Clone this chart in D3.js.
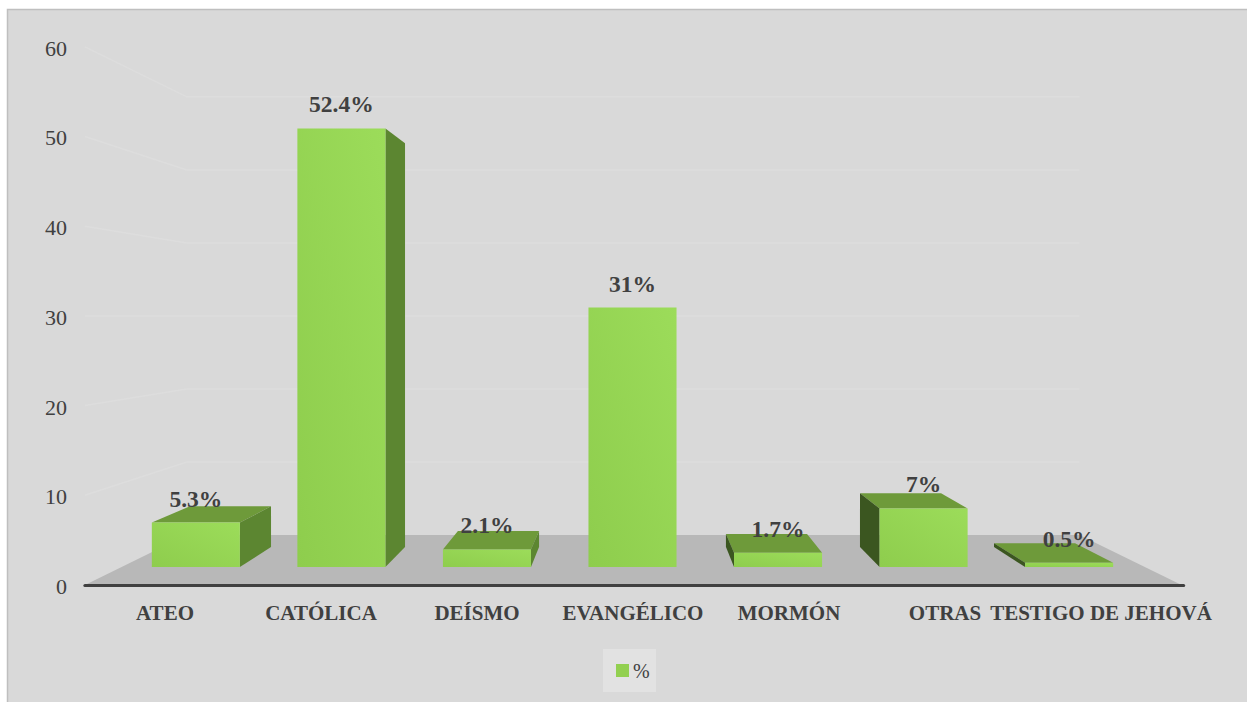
<!DOCTYPE html>
<html>
<head>
<meta charset="utf-8">
<script src="https://cdn.jsdelivr.net/npm/d3@7/dist/d3.min.js"></script>
<style>
  html, body { margin: 0; padding: 0; background: #ffffff; }
  svg { display: block; }
</style>
</head>
<body>
<svg id="chart" width="1247" height="702"></svg>
<script>
// ---- data ----
const categories = ["ATEO", "CATÓLICA", "DEÍSMO", "EVANGÉLICO", "MORMÓN", "OTRAS", "TESTIGO DE JEHOVÁ"];
const values = [5.3, 52.4, 2.1, 31, 1.7, 7, 0.5];
const valueLabels = ["5.3%", "52.4%", "2.1%", "31%", "1.7%", "7%", "0.5%"];
const yTicks = [0, 10, 20, 30, 40, 50, 60];
const seriesName = "%";

// ---- perspective setup ----
const svg = d3.select("#chart");
const W = 1247, H = 702;
const FONT = "'Liberation Serif', 'Times New Roman', Times, serif";
const VP = { x: 632.5, y: 316 };           // vanishing point / eye level
const S = { front: 1, barFront: 0.933, barBack: 0.859, back: 0.814 };

// world scales (at depth scale s = 1)
const yWorld = d3.scaleLinear().domain([0, 60]).range([269, -269.2]);
const xWorld = d3.scaleLinear().domain([0, categories.length - 1]).range([-468, 468]);

const proj = (X, Y, s) => [VP.x + X * s, VP.y + Y * s];
const poly = pts => "M" + pts.map(p => p.join(",")).join("L") + "Z";

// background + frame
svg.append("rect").attr("x", 7.5).attr("y", 9.5).attr("width", W + 20).attr("height", H + 20)
  .attr("fill", "#d9d9d9").attr("stroke", "#bfbfbf").attr("stroke-width", 1.5);

const defs = svg.append("defs");
const grad = defs.append("linearGradient").attr("id", "frontGrad")
  .attr("x1", "0%").attr("y1", "100%").attr("x2", "100%").attr("y2", "0%");
grad.append("stop").attr("offset", "0%").attr("stop-color", "#8ecd4d");
grad.append("stop").attr("offset", "100%").attr("stop-color", "#9cdc5a");

// floor extents
const xLeft = xWorld(-0.51), xRight = xWorld(6.52);

// gridlines: back wall + left side wall
const gridG = svg.append("g");
yTicks.filter(v => v > 0).forEach(v => {
  const yw = yWorld(v);
  const a = proj(xLeft, yw, S.front), b = proj(xLeft, yw, S.back), c = proj(xRight, yw, S.back);
  gridG.append("path").attr("d", `M${a}L${b}L${c}`)
    .attr("fill", "none").attr("stroke", "#dddddd").attr("stroke-width", 1.5);
});

// floor
svg.append("path")
  .attr("d", poly([proj(xLeft, yWorld(0), S.front), proj(xRight, yWorld(0), S.front),
                   proj(xRight, yWorld(0), S.back), proj(xLeft, yWorld(0), S.back)]))
  .attr("fill", "#b8b8b8");

// axis line at front
const fl = proj(xLeft, yWorld(0), S.front), fr = proj(xRight, yWorld(0), S.front);
svg.append("line").attr("x1", fl[0]).attr("x2", fr[0] + 2).attr("y1", fl[1] + 0.5).attr("y2", fl[1] + 0.5)
  .attr("stroke", "#404040").attr("stroke-width", 3.2).attr("stroke-linecap", "round");

// bars
const barsG = svg.append("g");
const half = (xWorld(1) - xWorld(0)) * 0.605 / 2;
values.forEach((v, i) => {
  const cx = xWorld(i);
  const L = cx - half, R = cx + half;
  const y0 = yWorld(0), y1 = yWorld(v);
  const fBL = proj(L, y0, S.barFront), fBR = proj(R, y0, S.barFront),
        fTL = proj(L, y1, S.barFront), fTR = proj(R, y1, S.barFront),
        bBL = proj(L, y0, S.barBack), bBR = proj(R, y0, S.barBack),
        bTL = proj(L, y1, S.barBack), bTR = proj(R, y1, S.barBack);
  const g = barsG.append("g");
  if (y1 > 0) g.append("path").attr("d", poly([fTL, fTR, bTR, bTL])).attr("fill", "#6e9a3a");
  if (R < 0) g.append("path").attr("d", poly([fTR, bTR, bBR, fBR])).attr("fill", "#5c8631");
  if (L > 0) g.append("path").attr("d", poly([fTL, bTL, bBL, fBL])).attr("fill", "#3b5620");
  g.append("path").attr("d", poly([fTL, fTR, fBR, fBL])).attr("fill", "url(#frontGrad)");
  // value label
  svg.append("text")
    .attr("x", VP.x + cx * S.barFront)
    .attr("y", fTL[1] - 16)
    .attr("text-anchor", "middle")
    .attr("font-family", FONT)
    .attr("font-weight", "bold").attr("font-size", 23.5).attr("fill", "#404040")
    .text(valueLabels[i]);
});

// y axis (front plane)
const yFront = d3.scaleLinear().domain([0, 60]).range([VP.y + yWorld(0), VP.y + yWorld(60)]);
const yAxisG = svg.append("g").attr("transform", "translate(67,1)")
  .call(d3.axisLeft(yFront).tickValues(yTicks).tickSize(0).tickPadding(0).tickFormat(d3.format("d")));
yAxisG.select(".domain").remove();
yAxisG.selectAll("text")
  .attr("font-family", FONT)
  .attr("font-size", 22).attr("fill", "#404040").attr("dy", "0.34em");

// x axis labels (front plane)
const xFront = d3.scaleLinear().domain(xWorld.domain()).range(xWorld.range().map(d => VP.x + d));
const xAxisG = svg.append("g").attr("transform", "translate(0,620)")
  .call(d3.axisBottom(xFront).tickValues(d3.range(categories.length)).tickSize(0).tickPadding(0)
    .tickFormat(i => categories[i]));
xAxisG.select(".domain").remove();
xAxisG.selectAll("text")
  .attr("font-family", FONT)
  .attr("font-weight", "bold").attr("font-size", 21).attr("fill", "#404040")
  .attr("y", 0).attr("dy", "0");

// legend
const lg = svg.append("g");
lg.append("rect").attr("x", 603).attr("y", 649).attr("width", 53).attr("height", 43).attr("fill", "#e2e2e2");
lg.append("rect").attr("x", 616).attr("y", 664).attr("width", 13).attr("height", 13).attr("fill", "#92d050");
lg.append("text").attr("x", 633).attr("y", 678)
  .attr("font-family", FONT)
  .attr("font-size", 20).attr("fill", "#404040").text(seriesName);
</script>
</body>
</html>
